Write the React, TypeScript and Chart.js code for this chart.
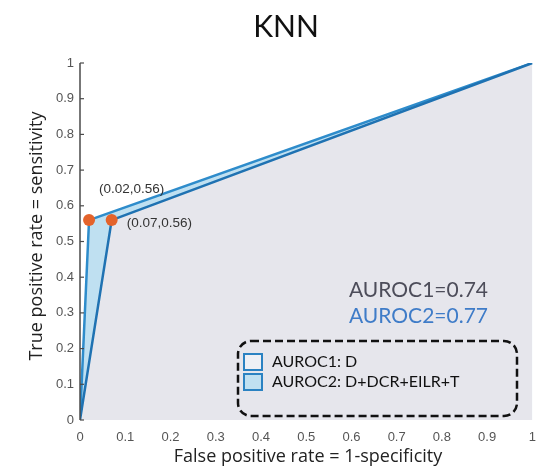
import React, { useEffect, useRef } from "react";
import { Chart, registerables } from "chart.js";

Chart.register(...registerables);

const fprD = [0, 0.07, 1];
const tprD = [0, 0.56, 1];
const fprFull = [0, 0.02, 1];
const tprFull = [0, 0.56, 1];
const tickLabels = ["0", "0.1", "0.2", "0.3", "0.4", "0.5", "0.6", "0.7", "0.8", "0.9", "1"];
const pointLabels = ["(0.02,0.56)", "(0.07,0.56)"];
const aurocTexts = ["AUROC1=0.74", "AUROC2=0.77"];
const legendLabels = ["AUROC1: D", "AUROC2: D+DCR+EILR+T"];
const titleText = "KNN";
const xTitle = "False positive rate = 1-specificity";
const yTitle = "True positive rate = sensitivity";

const LINE1 = "#1f72b2";
const LINE2 = "#2e8ccb";
const GRAY = "#e6e6ec";
const BLUE_FILL = "#bfe0f1";
const DOT = "#e4632b";

const overlay = {
  id: "overlay",
  afterDraw(chart: any) {
    const ctx = chart.ctx;
    const xs = chart.scales.x;
    const ys = chart.scales.y;
    const ca = chart.chartArea;
    ctx.save();
    ctx.strokeStyle = "#4a4a4a";
    ctx.lineWidth = 1.5;
    ctx.beginPath();
    ctx.moveTo(ca.left, ca.top);
    ctx.lineTo(ca.left, ca.bottom);
    ctx.stroke();
    ctx.lineWidth = 1.2;
    for (let i = 0; i < tickLabels.length; i++) {
      const y = ys.getPixelForValue(i / 10);
      ctx.beginPath();
      ctx.moveTo(ca.left, y);
      ctx.lineTo(ca.left + 4, y);
      ctx.stroke();
    }
    ctx.fillStyle = "#111";
    ctx.font = "30px Lato, 'Open Sans', sans-serif";
    ctx.textAlign = "center";
    ctx.textBaseline = "alphabetic";
    ctx.fillText(titleText, 286, 37);
    ctx.fillStyle = "#222";
    ctx.font = "18px 'Open Sans', Lato, sans-serif";
    ctx.textBaseline = "middle";
    ctx.fillText(xTitle, 308, 457);
    ctx.save();
    ctx.translate(37, 236);
    ctx.rotate(-Math.PI / 2);
    ctx.fillText(yTitle, 0, 0);
    ctx.restore();
    ctx.font = "13.5px 'Liberation Sans', Arial, sans-serif";
    ctx.fillStyle = "#333";
    ctx.textAlign = "left";
    ctx.fillText(pointLabels[0], xs.getPixelForValue(fprFull[1]) + 10, ys.getPixelForValue(tprFull[1]) - 31);
    ctx.fillText(pointLabels[1], xs.getPixelForValue(fprD[1]) + 15, ys.getPixelForValue(tprD[1]) + 3);
    ctx.font = "21px Lato, 'Open Sans', sans-serif";
    ctx.textAlign = "right";
    ctx.fillStyle = "#4d4d5a";
    ctx.fillText(aurocTexts[0], 488, 290);
    ctx.fillStyle = "#3f7cc8";
    ctx.fillText(aurocTexts[1], 488, 316);
    ctx.strokeStyle = "#111";
    ctx.lineWidth = 2.5;
    ctx.setLineDash([8, 4]);
    ctx.beginPath();
    (ctx as any).roundRect(238, 341, 279, 75, 13);
    ctx.stroke();
    ctx.setLineDash([]);
    ctx.lineWidth = 2;
    ctx.strokeStyle = "#2a82c2";
    ctx.fillStyle = "#eef0f5";
    ctx.fillRect(244, 354, 18, 16);
    ctx.strokeRect(244, 354, 18, 16);
    ctx.fillStyle = BLUE_FILL;
    ctx.fillRect(244, 374, 18, 16);
    ctx.strokeRect(244, 374, 18, 16);
    ctx.fillStyle = "#111";
    ctx.font = "16px Lato, 'Open Sans', sans-serif";
    ctx.textAlign = "left";
    ctx.fillText(legendLabels[0], 272, 362);
    ctx.fillText(legendLabels[1], 272, 382);
    ctx.restore();
  },
};

export default function App() {
  const ref = useRef<HTMLCanvasElement>(null);
  useEffect(() => {
    if (!ref.current) return;
    const toPts = (xs: number[], ys: number[]) => xs.map((x, i) => ({ x, y: ys[i] }));
    const chart = new Chart(ref.current, {
      type: "line",
      data: {
        datasets: [
          {
            label: legendLabels[0],
            data: toPts(fprD, tprD),
            borderColor: LINE1,
            borderWidth: 2.5,
            backgroundColor: GRAY,
            fill: "origin",
            pointRadius: [0, 6, 0],
            pointBackgroundColor: DOT,
            pointBorderWidth: 0,
            tension: 0,
          },
          {
            label: legendLabels[1],
            data: toPts(fprFull, tprFull),
            borderColor: LINE2,
            borderWidth: 2.5,
            backgroundColor: BLUE_FILL,
            fill: "origin",
            pointRadius: [0, 6, 0],
            pointBackgroundColor: DOT,
            pointBorderWidth: 0,
            tension: 0,
          },
        ],
      },
      options: {
        responsive: false,
        animation: false,
        events: [],
        layout: { padding: { left: 0, right: 9, top: 63, bottom: 0 } },
        plugins: { legend: { display: false }, tooltip: { enabled: false }, title: { display: false } },
        scales: {
          x: {
            type: "linear",
            min: 0,
            max: 1,
            grid: { display: false, drawTicks: false },
            border: { display: false },
            ticks: {
              stepSize: 0.1,
              padding: 10,
              color: "#555",
              font: { size: 13, family: "'Liberation Sans', Arial, sans-serif" },
              callback: (v: any) => tickLabels[Math.round(Number(v) * 10)],
            },
            afterFit: (s: any) => {
              s.height = 48;
            },
          },
          y: {
            type: "linear",
            min: 0,
            max: 1,
            grid: { display: false, drawTicks: false },
            border: { display: false },
            ticks: {
              stepSize: 0.1,
              padding: 6,
              color: "#555",
              font: { size: 13, family: "'Liberation Sans', Arial, sans-serif" },
              callback: (v: any) => tickLabels[Math.round(Number(v) * 10)],
            },
            afterFit: (s: any) => {
              s.width = 80;
            },
          },
        },
      },
      plugins: [overlay],
    });
    return () => chart.destroy();
  }, []);
  return (
    <div style={{ position: "absolute", left: 0, top: 0, width: 546, height: 468, background: "#fff" }}>
      <canvas ref={ref} width={546} height={468} />
    </div>
  );
}
